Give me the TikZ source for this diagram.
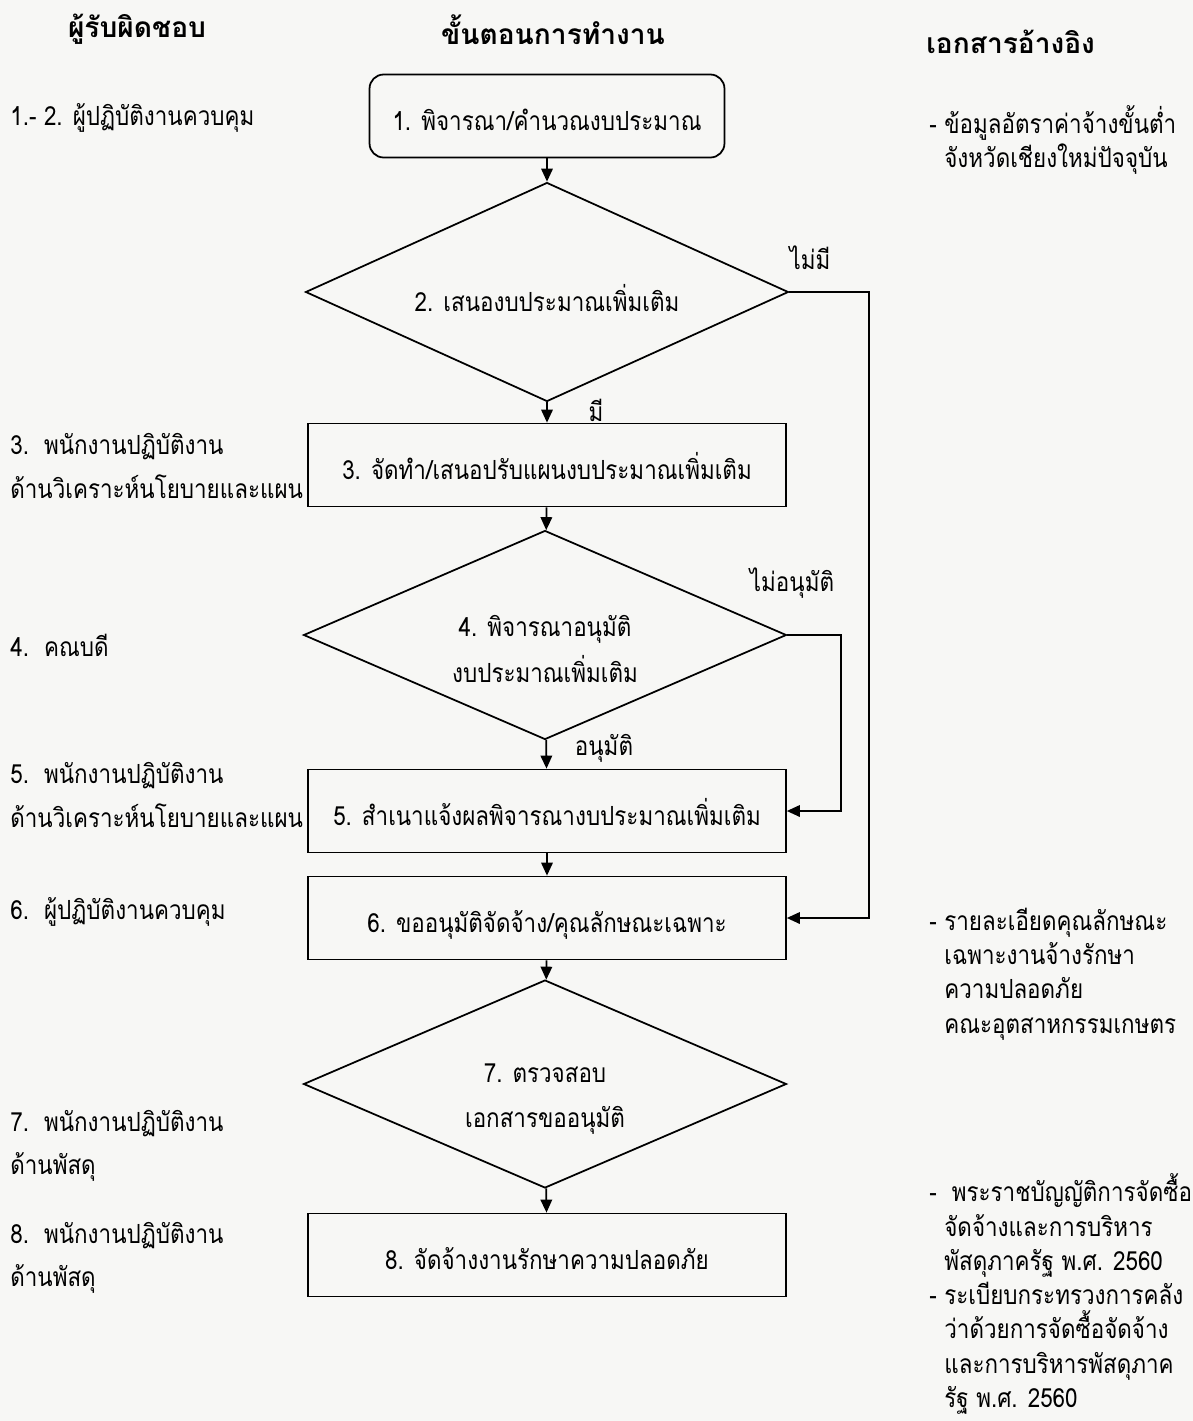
\documentclass[tikz,border=0pt]{standalone}
\usepackage{fontspec}
\setmainfont{Loma}[Script=Thai, FakeStretch=0.85]
\newfontfamily\headfont{Loma}[Script=Thai]
\usetikzlibrary{shapes.geometric,arrows.meta}
\definecolor{paper}{RGB}{247,247,245}

\begin{document}
\begin{tikzpicture}[
      x=0.02cm, y=-0.02cm,
      every node/.style={font=\fontsize{15}{22}\selectfont, inner sep=0pt},
      head/.style={font=\fontsize{16}{20}\selectfont\headfont\bfseries},
      stepbox/.style={rectangle, draw, line width=1pt, minimum width=9.56cm, minimum height=1.66cm,
        text height=17pt, text depth=0pt},
      startbox/.style={stepbox, rounded corners=8pt, minimum width=7.1cm},
      decide/.style={diamond, draw, line width=1pt, aspect=2.2, minimum width=9.66cm, minimum height=4.2cm},
      asktext/.style={align=center, font=\fontsize{15}{26}\selectfont},
      who/.style={anchor=west, align=left, font=\fontsize{15}{24.5}\selectfont},
      ref/.style={anchor=west, align=left, font=\fontsize{15}{19.5}\selectfont},
      flow/.style={draw, line width=1pt, -{Triangle[length=2.6mm,width=2.3mm]}}
    ]
    \path[use as bounding box, fill=paper] (0,0) rectangle (1193,1421);

    % column heads
    \node[head] (hwho) at (137,29) {ผู้รับผิดชอบ};
    \node[head] (hstep) at (553,30) {ขั้นตอนการทำงาน};
    \node[head, anchor=west] (href) at (926,42) {เอกสารอ้างอิง};

    % steps
    \node[startbox] (b1) at (547,116) {1. พิจารณา/คำนวณงบประมาณ};
    \node[decide, minimum height=4.38cm] (d2) at (547,292) {};
    \node[asktext] (t2) at ([yshift=-0.12cm]d2.center) {2. เสนองบประมาณเพิ่มเติม};
    \node[stepbox] (b3) at (547,465) {3. จัดทำ/เสนอปรับแผนงบประมาณเพิ่มเติม};
    \node[decide, minimum height=4.18cm] (d4) at (545,635) {};
    \node[asktext] (t4) at ([yshift=-0.28cm]d4.center) {4. พิจารณาอนุมัติ\\งบประมาณเพิ่มเติม};
    \node[stepbox] (b5) at (547,811) {5. สำเนาแจ้งผลพิจารณางบประมาณเพิ่มเติม};
    \node[stepbox] (b6) at (547,918) {6. ขออนุมัติจัดจ้าง/คุณลักษณะเฉพาะ};
    \node[decide, minimum height=4.16cm] (d7) at (545,1084) {};
    \node[asktext] (t7) at ([yshift=-0.3cm]d7.center) {7. ตรวจสอบ\\เอกสารขออนุมัติ};
    \node[stepbox] (b8) at (547,1255) {8. จัดจ้างงานรักษาความปลอดภัย};

    \draw[flow] (b1) -- (d2);
    \draw[flow] (d2) -- (b3);
    \draw[flow] (b3) -- (d4);
    \draw[flow] (d4) -- (b5);
    \draw[flow] (b5) -- (b6);
    \draw[flow] (b6) -- (d7);
    \draw[flow] (d7) -- (b8);
    \draw[flow] (d2.east) -- ++(80,0) |- (b6.east);
    \draw[flow] (d4.east) -- ++(54,0) |- (b5.east);

    % answers
    \node (no2) at (810,258) {ไม่มี};
    \node (yes2) at (596,410) {มี};
    \node (no4) at (792,583) {ไม่อนุมัติ};
    \node (yes4) at (604,748) {อนุมัติ};

    % who is responsible
    \node[who] (w12) at (10,118) {1.- 2. ผู้ปฏิบัติงานควบคุม};
    \node[who] (w3) at (10,466) {3.\ \ พนักงานปฏิบัติงาน\\ด้านวิเคราะห์นโยบายและแผน};
    \node[who] (w4) at (10,645) {4.\ \ คณบดี};
    \node[who] (w5) at (10,795) {5.\ \ พนักงานปฏิบัติงาน\\ด้านวิเคราะห์นโยบายและแผน};
    \node[who] (w6) at (10,912) {6.\ \ ผู้ปฏิบัติงานควบคุม};
    \node[who] (w7) at (10,1146) {7.\ \ พนักงานปฏิบัติงาน\\ด้านพัสดุ};
    \node[who] (w8) at (10,1258) {8.\ \ พนักงานปฏิบัติงาน\\ด้านพัสดุ};

    % references
    \node[ref] (r1) at (929,140) {- ข้อมูลอัตราค่าจ้างขั้นต่ำ\\\hspace*{0.3cm}จังหวัดเชียงใหม่ปัจจุบัน};
    \node[ref] (r6) at (929,974) {- รายละเอียดคุณลักษณะ\\\hspace*{0.3cm}เฉพาะงานจ้างรักษา\\\hspace*{0.3cm}ความปลอดภัย\\\hspace*{0.3cm}คณะอุตสาหกรรมเกษตร};
    \node[ref] (r8) at (929,1294) {-\ \ พระราชบัญญัติการจัดซื้อ\\\hspace*{0.3cm}จัดจ้างและการบริหาร\\\hspace*{0.3cm}พัสดุภาครัฐ พ.ศ. 2560\\- ระเบียบกระทรวงการคลัง\\\hspace*{0.3cm}ว่าด้วยการจัดซื้อจัดจ้าง\\\hspace*{0.3cm}และการบริหารพัสดุภาค\\\hspace*{0.3cm}รัฐ พ.ศ. 2560};
\end{tikzpicture}
\end{document}
